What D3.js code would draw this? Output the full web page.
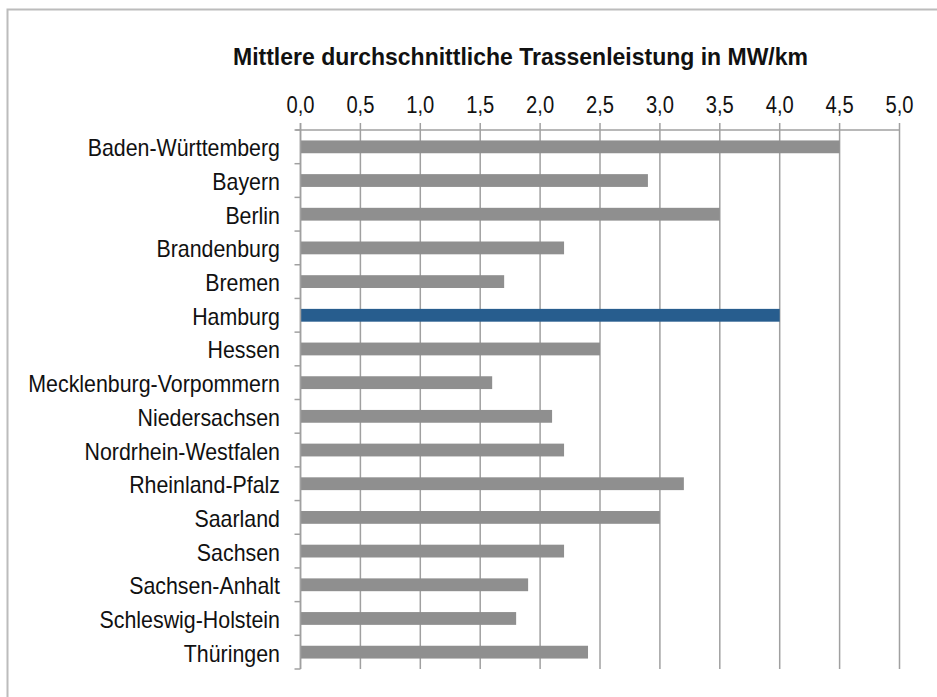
<!DOCTYPE html>
<html>
<head>
<meta charset="utf-8">
<script src="https://cdn.jsdelivr.net/npm/d3@7"></script>
<style>
  body { margin: 0; background: #fff; }
  svg { display: block; font-family: "Liberation Sans", Arial, sans-serif; }
</style>
</head>
<body>
<div id="chart"></div>
<script>
// Daten
const laender = ['Baden-Württemberg', 'Bayern', 'Berlin', 'Brandenburg', 'Bremen', 'Hamburg', 'Hessen',
  'Mecklenburg-Vorpommern', 'Niedersachsen', 'Nordrhein-Westfalen', 'Rheinland-Pfalz', 'Saarland',
  'Sachsen', 'Sachsen-Anhalt', 'Schleswig-Holstein', 'Thüringen'];
const leistung = [4.5, 2.9, 3.5, 2.2, 1.7, 4.0, 2.5, 1.6, 2.1, 2.2, 3.2, 3.0, 2.2, 1.9, 1.8, 2.4];
const xTicks = [0, 0.5, 1, 1.5, 2, 2.5, 3, 3.5, 4, 4.5, 5];
const highlight = 'Hamburg';
const title = 'Mittlere durchschnittliche Trassenleistung in MW/km';

const width = 937, height = 697;
const margin = { top: 130, right: 37.5, bottom: 28, left: 300.5 };

const colors = {
  bar: '#8f8f8f',
  barHi: '#275d8e',
  grid: '#a0a0a0',
  frame: '#bcbcbc',
  text: '#111'
};

// Schmalschrift nachbilden: Text horizontal stauchen
function narrow(sel, factor) {
  sel.each(function() {
    const w = this.getComputedTextLength();
    d3.select(this)
      .attr('textLength', w * factor)
      .attr('lengthAdjust', 'spacingAndGlyphs');
  });
}

const data = laender.map((name, i) => ({ name, value: leistung[i] }));

const svg = d3.select('#chart').append('svg')
  .attr('width', width)
  .attr('height', height);

// Rahmen
svg.append('rect')
  .attr('x', 7.5).attr('y', 9.5)
  .attr('width', width + 10).attr('height', height + 10)
  .attr('fill', 'none')
  .attr('stroke', colors.frame)
  .attr('stroke-width', 2);

const x = d3.scaleLinear().domain([0, 5]).range([margin.left, width - margin.right]);
const y = d3.scaleBand().domain(laender)
  .range([margin.top, height - margin.bottom])
  .paddingInner(0.62).paddingOuter(0.31);

const bandStep = y.step();
const y0 = margin.top, y1 = height - margin.bottom;

// Titel
svg.append('text')
  .attr('x', 233).attr('y', 65)
  .attr('font-size', 24)
  .attr('font-weight', 'bold')
  .attr('fill', colors.text)
  .attr('textLength', 575)
  .attr('lengthAdjust', 'spacingAndGlyphs')
  .text(title);

// Gitterlinien
svg.append('g')
  .selectAll('line')
  .data(xTicks)
  .enter()
  .append('line')
  .attr('x1', d => x(d)).attr('x2', d => x(d))
  .attr('y1', y0 - 7).attr('y2', y1)
  .attr('stroke', colors.grid)
  .attr('stroke-width', 1.5);

// obere Achse
svg.append('line')
  .attr('x1', x(0) - 5).attr('x2', x(5))
  .attr('y1', y0).attr('y2', y0)
  .attr('stroke', colors.grid)
  .attr('stroke-width', 1.5);

svg.append('g')
  .selectAll('text')
  .data(xTicks)
  .enter()
  .append('text')
  .attr('x', d => x(d))
  .attr('y', 113)
  .attr('text-anchor', 'middle')
  .attr('font-size', 24)
  .attr('fill', colors.text)
  .text(d => d3.format('.1f')(d).replace('.', ','))
  .call(narrow, 0.84);

// Balken
svg.append('g')
  .selectAll('rect')
  .data(data)
  .enter()
  .append('rect')
  .attr('x', x(0))
  .attr('y', d => y(d.name))
  .attr('width', d => x(d.value) - x(0))
  .attr('height', y.bandwidth())
  .attr('fill', d => d.name === highlight ? colors.barHi : colors.bar);

// linke Achse mit Trennstrichen
svg.append('line')
  .attr('x1', x(0)).attr('x2', x(0))
  .attr('y1', y0 - 7).attr('y2', y1)
  .attr('stroke', colors.grid)
  .attr('stroke-width', 1.5);

svg.append('g')
  .selectAll('line')
  .data(d3.range(laender.length + 1))
  .enter()
  .append('line')
  .attr('x1', x(0) - 6).attr('x2', x(0))
  .attr('y1', i => y0 + i * bandStep).attr('y2', i => y0 + i * bandStep)
  .attr('stroke', colors.grid)
  .attr('stroke-width', 1.5);

// Kategorienbeschriftung
svg.append('g')
  .selectAll('text')
  .data(laender)
  .enter()
  .append('text')
  .attr('x', 280)
  .attr('y', d => y(d) + y.bandwidth() / 2 + 9.5)
  .attr('text-anchor', 'end')
  .attr('font-size', 24)
  .attr('fill', colors.text)
  .text(d => d)
  .call(narrow, 0.89);
</script>
</body>
</html>
